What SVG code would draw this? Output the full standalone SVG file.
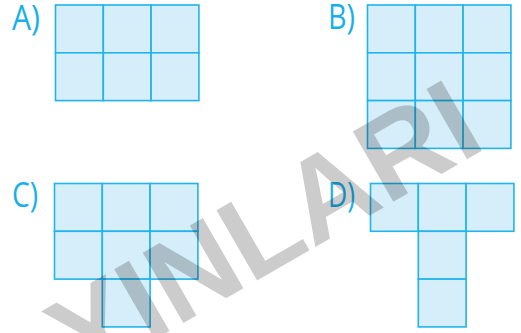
<svg xmlns="http://www.w3.org/2000/svg" width="521" height="333" viewBox="0 0 521 333">
<style>
.cell{fill:#d6eef9;stroke:#1fb4ec;stroke-width:1.6}
.lbl{font-family:"Open Sans","Noto Sans",sans-serif;font-size:34px;fill:#18afeb}
.wm{font-family:"Liberation Sans",Arial,sans-serif;font-weight:bold;font-size:118px;fill:#000;fill-opacity:0.2}
</style>
<defs>
<rect id="c" class="cell" width="47.8" height="47.8"/>
</defs>
<rect width="521" height="333" fill="#fff"/>
<g id="optionA">
<text class="lbl" x="12" y="30" textLength="28" lengthAdjust="spacingAndGlyphs">A)</text>
<use href="#c" x="55.5" y="5"/><use href="#c" x="103.3" y="5"/><use href="#c" x="151.1" y="5"/>
<use href="#c" x="55.5" y="52.8"/><use href="#c" x="103.3" y="52.8"/><use href="#c" x="151.1" y="52.8"/>
</g>
<g id="optionB">
<text class="lbl" x="328" y="29" textLength="27" lengthAdjust="spacingAndGlyphs">B)</text>
<use href="#c" x="367.5" y="5"/><use href="#c" x="415.3" y="5"/><use href="#c" x="463.1" y="5"/>
<use href="#c" x="367.5" y="52.8"/><use href="#c" x="415.3" y="52.8"/><use href="#c" x="463.1" y="52.8"/>
<use href="#c" x="367.5" y="100.6"/><use href="#c" x="415.3" y="100.6"/><use href="#c" x="463.1" y="100.6"/>
</g>
<g id="optionC">
<text class="lbl" x="12" y="207" textLength="26" lengthAdjust="spacingAndGlyphs">C)</text>
<use href="#c" x="54.5" y="183.5"/><use href="#c" x="102.3" y="183.5"/><use href="#c" x="150.1" y="183.5"/>
<use href="#c" x="54.5" y="231.3"/><use href="#c" x="102.3" y="231.3"/><use href="#c" x="150.1" y="231.3"/>
<use href="#c" x="102.3" y="279.1"/>
</g>
<g id="optionD">
<text class="lbl" x="328" y="207" textLength="27" lengthAdjust="spacingAndGlyphs">D)</text>
<use href="#c" x="370.5" y="183.5"/><use href="#c" x="418.3" y="183.5"/><use href="#c" x="466.1" y="183.5"/>
<use href="#c" x="418.3" y="231.3"/>
<use href="#c" x="418.3" y="279.1"/>
</g>
<g id="connectors"></g>
<text class="wm" x="284.3" y="264.8" text-anchor="middle" transform="rotate(-30 284.3 264.8)">YINLARI</text>
</svg>
